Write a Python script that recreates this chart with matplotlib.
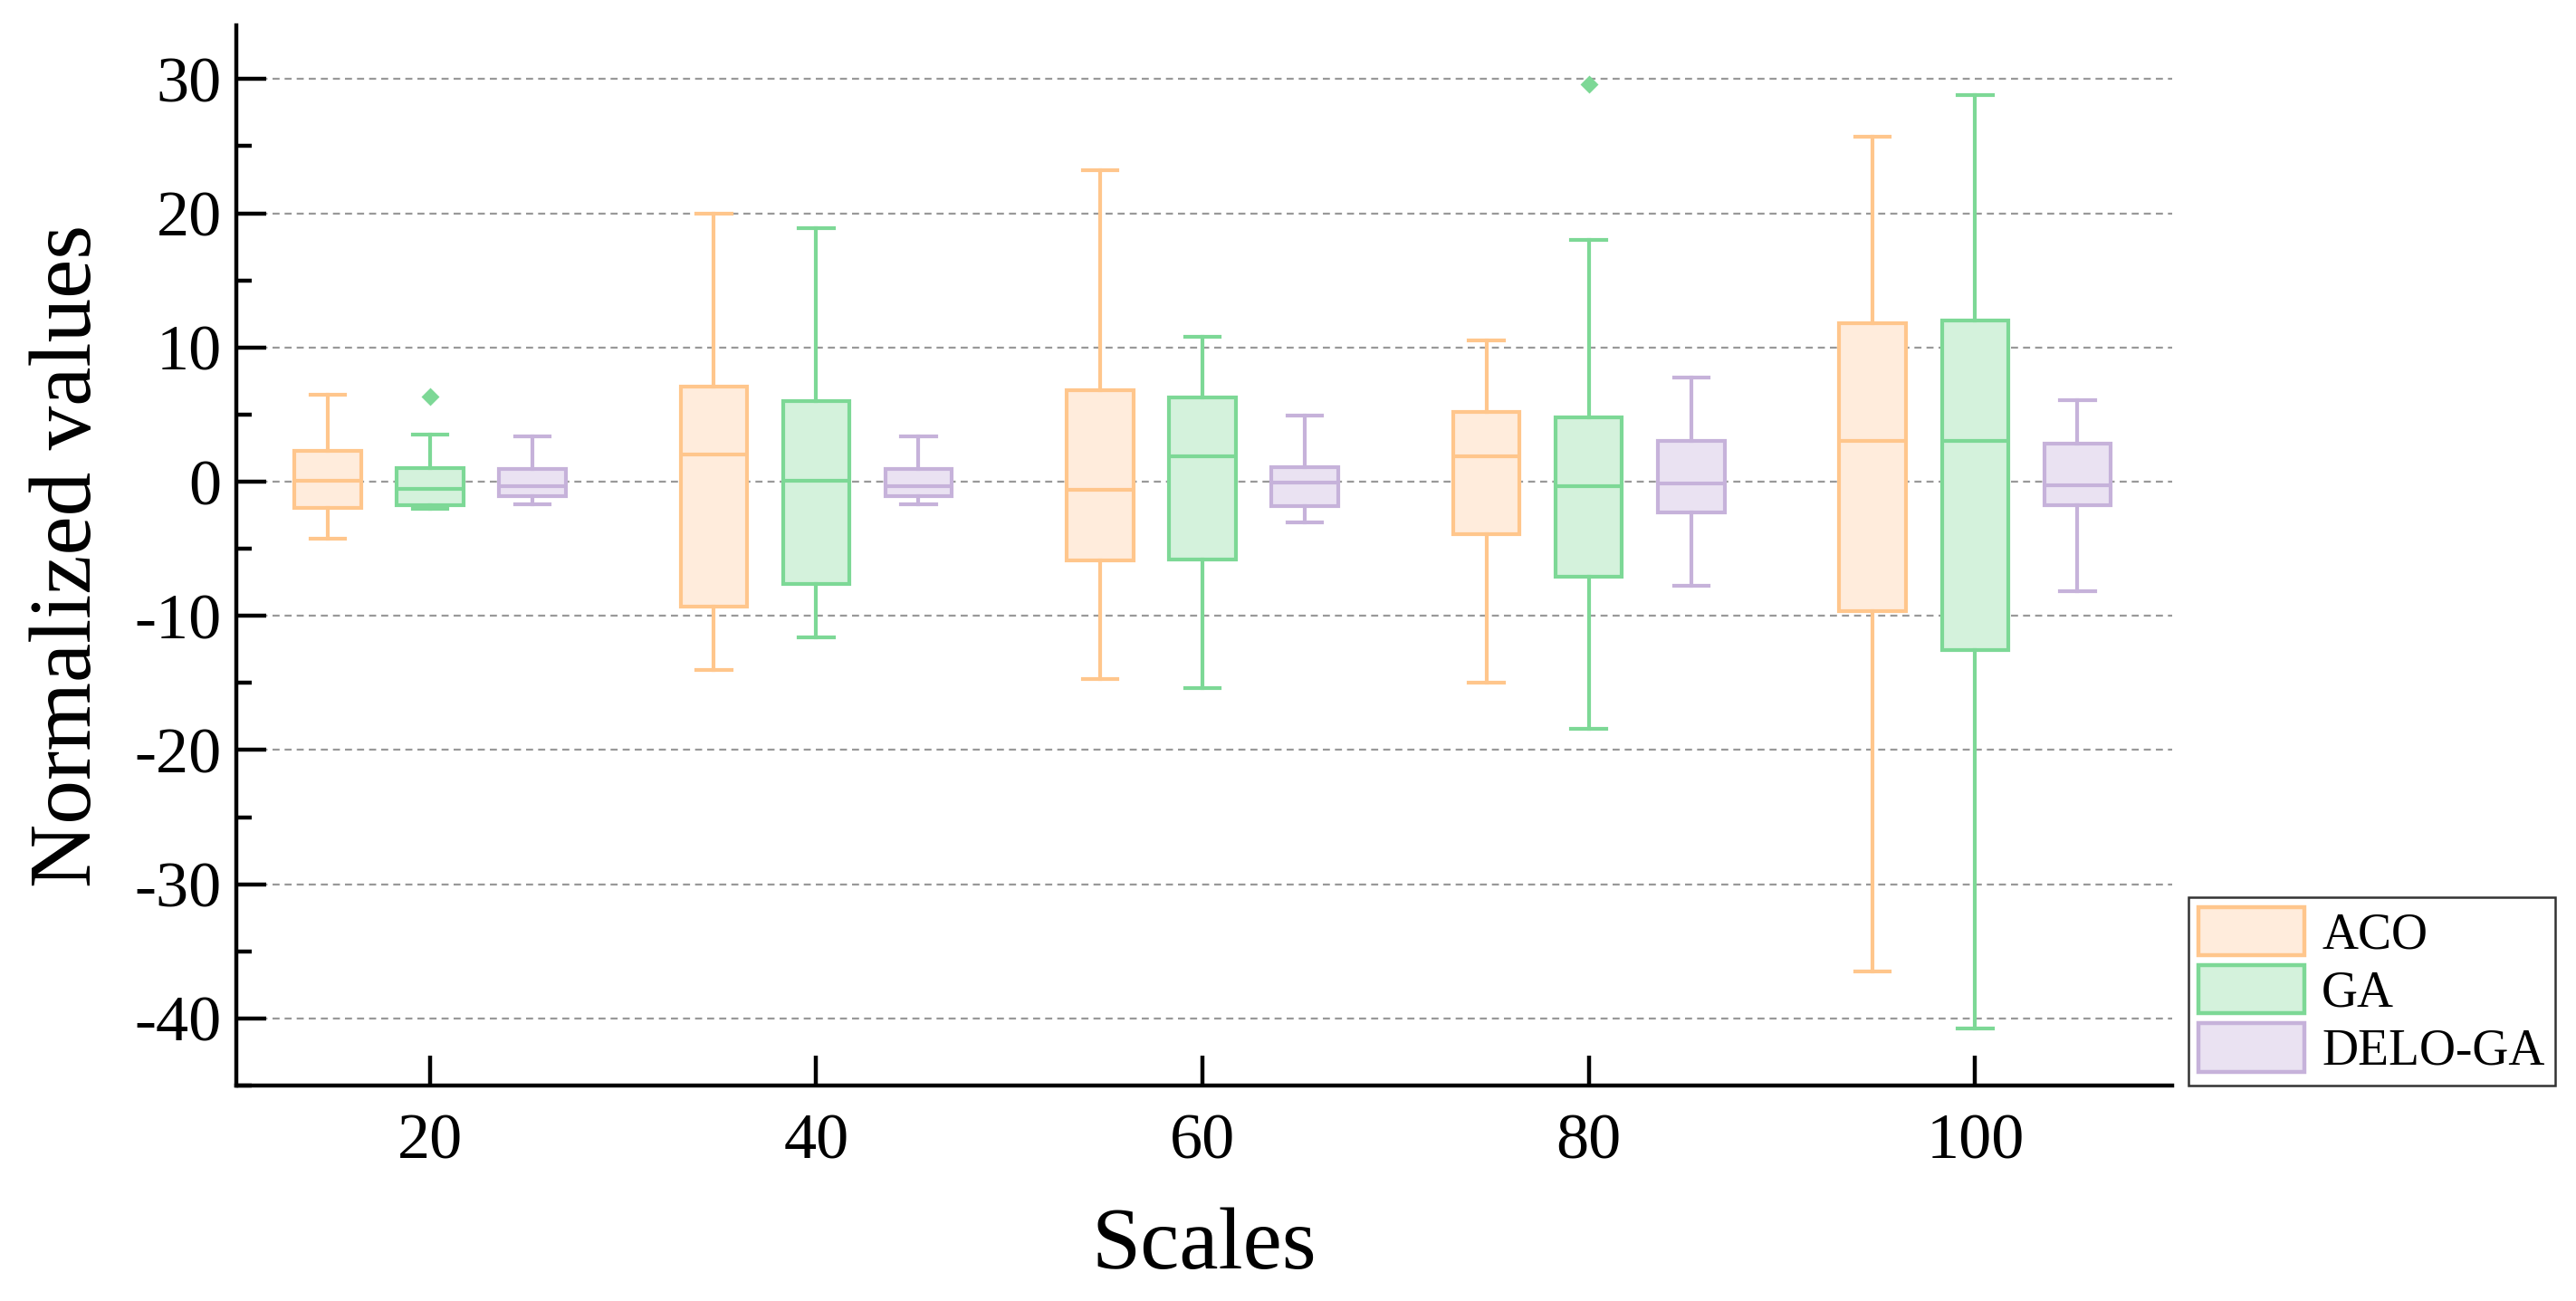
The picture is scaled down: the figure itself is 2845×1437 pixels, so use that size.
import matplotlib
matplotlib.use('Agg')
import matplotlib.pyplot as plt
from matplotlib.patches import Patch
from matplotlib.ticker import MultipleLocator

plt.rcParams['font.family'] = ['Liberation Serif', 'DejaVu Serif']
plt.rcParams['axes.unicode_minus'] = False

scales = [20, 40, 60, 80, 100]
methods = ['ACO', 'GA', 'DELO-GA']

# whisker low, Q1, median, Q3, whisker high for each scale
aco_low = [-4.25, -14.0, -14.7, -15.0, -36.5]
aco_q1 = [-1.95, -9.3, -5.85, -3.9, -9.65]
aco_med = [0.05, 2.05, -0.6, 1.9, 3.05]
aco_q3 = [2.3, 7.05, 6.8, 5.2, 11.83]
aco_high = [6.5, 19.95, 23.2, 10.5, 25.7]
aco_out = [[], [], [], [], []]

ga_low = [-2.05, -11.6, -15.4, -18.4, -40.75]
ga_q1 = [-1.75, -7.6, -5.8, -7.1, -12.55]
ga_med = [-0.55, 0.1, 1.9, -0.35, 3.05]
ga_q3 = [1.0, 6.0, 6.25, 4.8, 12.0]
ga_high = [3.5, 18.9, 10.8, 18.0, 28.8]
ga_out = [[6.35], [], [], [29.6], []]

delo_low = [-1.7, -1.7, -3.05, -7.75, -8.15]
delo_q1 = [-1.1, -1.1, -1.8, -2.27, -1.75]
delo_med = [-0.35, -0.35, -0.1, -0.15, -0.25]
delo_q3 = [0.95, 0.95, 1.1, 3.05, 2.8]
delo_high = [3.35, 3.35, 4.95, 7.75, 6.05]
delo_out = [[], [], [], [], []]

edge_colors = ['#FFC68C', '#7DD896', '#C6B2DA']
face_colors = ['#FFECDC', '#D4F2DC', '#EAE2F2']


def make_stats(low, q1, med, q3, high, out):
    return [dict(whislo=a, q1=b, med=c, q3=d, whishi=e, fliers=f)
            for a, b, c, d, e, f in zip(low, q1, med, q3, high, out)]


all_stats = [
    make_stats(aco_low, aco_q1, aco_med, aco_q3, aco_high, aco_out),
    make_stats(ga_low, ga_q1, ga_med, ga_q3, ga_high, ga_out),
    make_stats(delo_low, delo_q1, delo_med, delo_q3, delo_high, delo_out),
]

fig = plt.figure(figsize=(2845 / 200, 1437 / 200), dpi=200)
ax = fig.add_axes([0.0919, 0.1656, 0.7513, 0.8149])

offsets = [-5.3, 0, 5.3]
lw = 1.5
for stats, off, ec, fc in zip(all_stats, offsets, edge_colors, face_colors):
    pos = [s + off for s in scales]
    ax.bxp(stats, positions=pos, widths=3.45, patch_artist=True,
           showfliers=True, capwidths=1.8,
           boxprops=dict(facecolor=fc, edgecolor=ec, linewidth=lw),
           medianprops=dict(color=ec, linewidth=lw),
           whiskerprops=dict(color=ec, linewidth=lw),
           capprops=dict(color=ec, linewidth=lw),
           flierprops=dict(marker='D', markerfacecolor=ec, markeredgecolor=ec,
                           markersize=4),
           zorder=3)

ax.set_xlim(10, 110.2)
ax.set_ylim(-45, 34)
ax.set_xticks(scales)
ax.set_xticklabels([str(s) for s in scales])
ax.yaxis.set_major_locator(MultipleLocator(10))
ax.yaxis.set_minor_locator(MultipleLocator(5))

ax.grid(axis='y', which='major', color='#999999', linestyle=(0, (3.5, 2.5)),
        linewidth=0.8, zorder=0)
ax.set_axisbelow(True)

for side in ['top', 'right']:
    ax.spines[side].set_visible(False)
for side in ['left', 'bottom']:
    ax.spines[side].set_linewidth(1.6)

ax.tick_params(axis='both', which='major', direction='in', length=12,
               width=1.6, labelsize=26)
ax.tick_params(axis='y', which='major', pad=6)
ax.tick_params(axis='x', which='major', pad=11)
ax.tick_params(axis='y', which='minor', direction='in', length=6, width=1.6)
ax.tick_params(axis='x', which='minor', bottom=False)

ax.set_xlabel('Scales', fontsize=35, labelpad=14)
ax.set_ylabel('Normalized values', fontsize=35, labelpad=10)

handles = [Patch(facecolor=fc, edgecolor=ec, linewidth=1.6, label=m)
           for m, ec, fc in zip(methods, edge_colors, face_colors)]
leg = ax.legend(handles=handles, loc='lower left', bbox_to_anchor=(1.0084, 0.0),
                fontsize=20, frameon=True, fancybox=False, edgecolor='black',
                handlelength=2.1, handleheight=1.1, labelspacing=0.12,
                handletextpad=0.35, borderpad=0.2, borderaxespad=0)
leg.get_frame().set_linewidth(0.9)

fig.savefig('out.png', dpi=200)
